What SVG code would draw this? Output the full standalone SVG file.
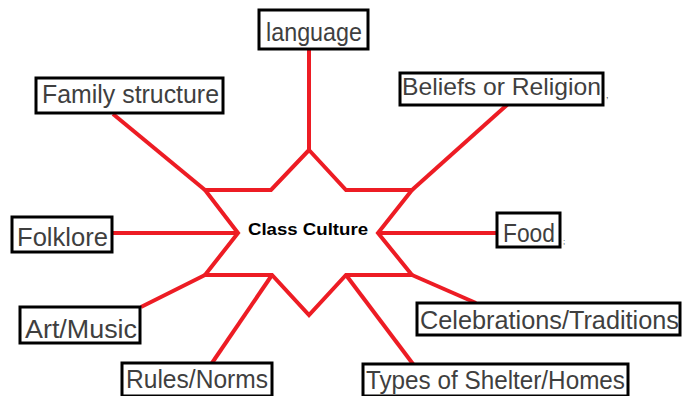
<svg xmlns="http://www.w3.org/2000/svg" width="685" height="396" viewBox="0 0 685 396">
<style>
.c{stroke:#ed1c24;stroke-width:4;fill:none;stroke-linecap:butt}
.b{fill:#fff;stroke:#000;stroke-width:3}
.t{font-family:"Liberation Sans",Arial,sans-serif;font-size:26px;fill:#3f3f3f}
.m{font-family:"Liberation Sans",Arial,sans-serif;font-size:17px;font-weight:bold;fill:#000}
</style>
<rect width="685" height="396" fill="#fff"/>
<g id="connectors">
<line class="c" x1="309" y1="150" x2="309" y2="49"/>
<line class="c" x1="205" y1="190" x2="113" y2="114"/>
<line class="c" x1="412" y1="190" x2="508" y2="104"/>
<line class="c" x1="238" y1="233" x2="112" y2="233"/>
<line class="c" x1="378" y1="233" x2="497" y2="233"/>
<line class="c" x1="205" y1="275" x2="141" y2="307"/>
<line class="c" x1="412" y1="275" x2="476" y2="303"/>
<line class="c" x1="272" y1="275" x2="212" y2="363"/>
<line class="c" x1="346" y1="275" x2="413" y2="364"/>
</g>
<g id="center">
<polygon class="c" style="fill:#fff" points="309,150 346,190 412,190 378,233 412,275 346,275 309,315 272,275 205,275 238,233 205,190 271,190"/>
<text class="m" x="308" y="235" text-anchor="middle" textLength="120" lengthAdjust="spacingAndGlyphs">Class Culture</text>
</g>
<g id="language">
<rect class="b" x="259" y="10" width="109" height="39"/>
<text class="t" x="266" y="41" textLength="96" lengthAdjust="spacingAndGlyphs">language</text>
</g>
<g id="family">
<rect class="b" x="36" y="78" width="187" height="35"/>
<text class="t" x="42" y="103" textLength="177" lengthAdjust="spacingAndGlyphs">Family structure</text>
</g>
<g id="beliefs">
<rect class="b" x="400" y="73" width="203" height="32"/>
<text class="t" x="402" y="95" style="font-size:24.5px" textLength="199" lengthAdjust="spacingAndGlyphs">Beliefs or Religion</text>
<text class="t" x="606" y="98" style="font-size:9px">,</text>
</g>
<g id="food">
<rect class="b" x="497" y="213" width="63" height="34"/>
<text class="t" x="503" y="242" textLength="52" lengthAdjust="spacingAndGlyphs">Food</text>
<text class="t" x="563" y="244" style="font-size:8px">;</text>
</g>
<g id="folklore">
<rect class="b" x="12" y="217" width="100" height="35"/>
<text class="t" x="17" y="246" textLength="91" lengthAdjust="spacingAndGlyphs">Folklore</text>
</g>
<g id="art">
<rect class="b" x="20" y="307" width="120" height="36"/>
<text class="t" x="25" y="338" textLength="112" lengthAdjust="spacingAndGlyphs">Art/Music</text>
</g>
<g id="celebrations">
<rect class="b" x="417" y="303" width="263" height="32"/>
<text class="t" x="420" y="329" textLength="259" lengthAdjust="spacingAndGlyphs">Celebrations/Traditions</text>
</g>
<g id="rules">
<rect class="b" x="122" y="363" width="150" height="33"/>
<text class="t" x="126" y="388" textLength="142" lengthAdjust="spacingAndGlyphs">Rules/Norms</text>
</g>
<g id="shelter">
<rect class="b" x="363" y="364" width="265" height="32"/>
<text class="t" x="366" y="389" textLength="259" lengthAdjust="spacingAndGlyphs">Types of Shelter/Homes</text>
</g>
</svg>
